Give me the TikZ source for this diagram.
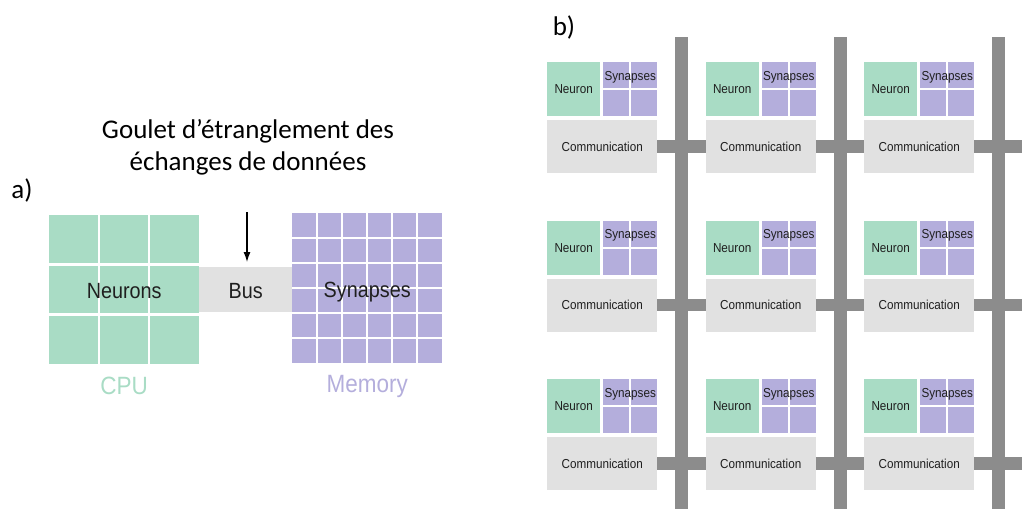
\documentclass[tikz,border=0pt]{standalone}
\usepackage{fontspec}
\setmainfont{Carlito}
\newfontfamily\arialfont[FakeStretch=0.9]{Liberation Sans}
\usepackage{tikz}
\usetikzlibrary{positioning}
\usetikzlibrary{arrows.meta}
\tikzset{>=latex}

\definecolor{cpugreen}{RGB}{169,220,197}
\definecolor{mempurple}{RGB}{180,174,220}
\definecolor{commgray}{RGB}{225,225,225}
\definecolor{bargray}{RGB}{140,140,140}

\begin{document}
\begin{tikzpicture}[x=1pt, y=-1pt,
  block/.style={rectangle, inner sep=0pt, anchor=north west},
  bigtxt/.style={font=\arialfont\fontsize{22}{26}\selectfont, text=black!88, text height=21pt, text depth=3pt},
  smalltxt/.style={font=\arialfont\fontsize{13}{15}\selectfont, text=black!88},
  unittxt/.style={font=\arialfont\fontsize{25}{28}\selectfont, inner sep=0pt},
  headtxt/.style={font=\fontsize{27}{32}\selectfont},
  busline/.style={draw=bargray, line width=12.5pt}]
  \useasboundingbox (0,0) rectangle (1022,509);

  % --- Definitions ---
  \def\pitch{158.5} % Spacing of the cores in panel b

  % --- 1. Panel a: von Neumann layout ---
  \node[headtxt] (lbla) at (22,190) {a)};
  \node[headtxt, align=center] (title) at (248,147) {Goulet d’étranglement des\\échanges de données};

  % CPU block with its 3x3 grid
  \node[block, fill=cpugreen, minimum width=150, minimum height=149] (cpu) at (49,215) {};
  \foreach \i in {1,2} {
    \draw[white, line width=2.5pt] (49+50*\i,215) -- (49+50*\i,364);
    \draw[white, line width=2.5pt] (49,215+49.7*\i) -- (199,215+49.7*\i);
  }
  \node[bigtxt] (neurons) at (cpu.center) {Neurons};
  \node[unittxt, text=cpugreen, below=12pt of cpu] (cpulbl) {CPU};

  % Memory block with its 6x6 grid
  \node[block, fill=mempurple, minimum width=150, minimum height=150] (mem) at (292,213) {};
  \foreach \i in {1,...,5} {
    \draw[white, line width=2.5pt] (292+25*\i,213) -- (292+25*\i,363);
    \draw[white, line width=2.5pt] (292,213+25*\i) -- (442,213+25*\i);
  }
  \node[bigtxt] (synapses) at (mem.center) {Synapses};
  \node[unittxt, text=mempurple, below=12pt of mem] (memlbl) {Memory};

  % Bus between them
  \node[block, fill=commgray, minimum width=93, minimum height=45, bigtxt] (bus) at (199,267) {Bus};
  \coordinate (arrowtop) at (247,212);
  \draw[-{Latex[length=10pt,width=7pt]}, line width=1.2pt, shorten >=5pt] (arrowtop) -- (arrowtop |- bus.north);

  % --- 2. Panel b: grid of cores ---
  \node[headtxt] (lblb) at (564,27) {b)};

  % Vertical buses
  \foreach \c in {0,1,2}
    \fill[bargray] (675+\pitch*\c,37) rectangle ++(13,472);

  % Cores: neuron, synapses, communication
  \foreach \r in {0,1,2} {
    \foreach \c in {0,1,2} {
      \pgfmathsetmacro\cx{547+\pitch*\c}
      \pgfmathsetmacro\cy{62+\pitch*\r}
      \node[block, fill=cpugreen, minimum width=53, minimum height=54, smalltxt] (neu\r\c) at (\cx,\cy) {Neuron};
      \node[block, fill=mempurple, minimum width=54, minimum height=54] (syn\r\c) at (\cx+56,\cy) {};
      \draw[white, line width=2pt] (\cx+83,\cy) -- (\cx+83,\cy+54) (\cx+56,\cy+27) -- (\cx+110,\cy+27);
      \node[smalltxt, inner sep=0pt, below=9pt of syn\r\c.north] (syntxt\r\c) {Synapses};
      \node[block, fill=commgray, minimum width=110, minimum height=53, smalltxt] (com\r\c) at (\cx,\cy+58) {Communication};
    }
  }

  % Horizontal buses
  \coordinate (rim) at (1022,0);
  \foreach \r in {0,1,2} {
    \foreach \c/\d in {0/1,1/2}
      \draw[busline] (com\r\c.east) -- (com\r\d.west);
    \draw[busline] (com\r2.east) -- (com\r2.east -| rim);
  }
\end{tikzpicture}
\end{document}
